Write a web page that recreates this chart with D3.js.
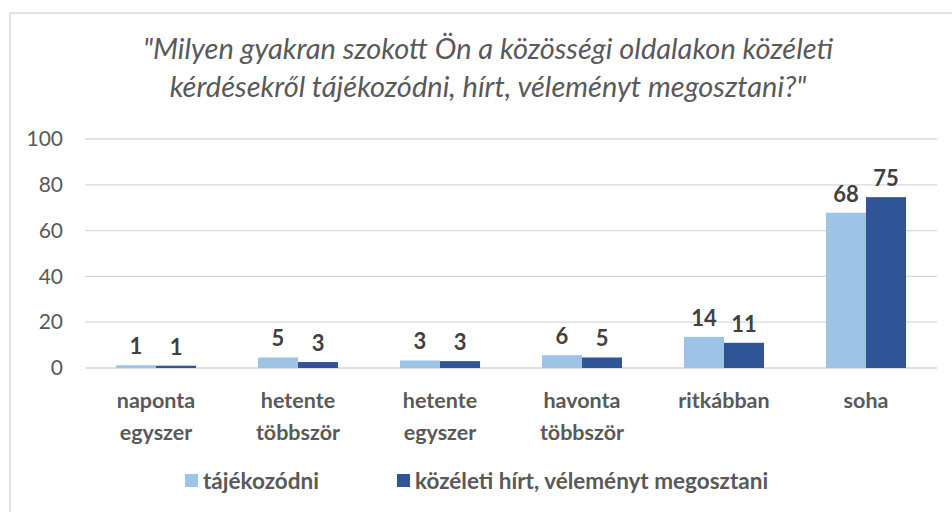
<!DOCTYPE html>
<html>
<head>
<meta charset="utf-8">
<script src="https://cdn.jsdelivr.net/npm/d3@7"></script>
<style>
  body { margin: 0; background: #fff; }
  svg text { font-family: Lato, "Open Sans", sans-serif; }
</style>
</head>
<body>
<script>
// data
var categories = [["naponta", "egyszer"], ["hetente", "többször"], ["hetente", "egyszer"],
                  ["havonta", "többször"], ["ritkábban"], ["soha"]];
var seriesNames = ["tájékozódni", "közéleti hírt, véleményt megosztani"];
var tajekozodni = [1.2, 4.6, 3.3, 5.6, 13.6, 67.8];
var megosztani = [1.0, 2.6, 3.0, 4.6, 11.0, 74.6];
var yTicks = [0, 20, 40, 60, 80, 100];

var colors = ["#9dc3e6", "#2f5597"];
var W = 952, H = 512;
var margin = {top: 139, right: 15, bottom: 144, left: 85};

var svg = d3.select("body").append("svg")
    .attr("width", W)
    .attr("height", H);

// chart frame (only left and top edges show in the picture)
svg.append("rect")
    .attr("x", 10).attr("y", 13)
    .attr("width", W + 20).attr("height", H + 20)
    .attr("fill", "none")
    .attr("stroke", "#d9d9d9")
    .attr("stroke-width", 1.5);

// title
var title = svg.append("text")
    .attr("text-anchor", "middle")
    .attr("fill", "#595959")
    .style("font-style", "italic")
    .style("font-size", "29px");
title.append("tspan").attr("x", 488).attr("y", 59)
    .text("\"Milyen gyakran szokott Ön a közösségi oldalakon közéleti");
title.append("tspan").attr("x", 488).attr("y", 97)
    .text("kérdésekről tájékozódni, hírt, véleményt megosztani?\"");

var g = svg.append("g")
    .attr("transform", "translate(" + margin.left + "," + margin.top + ")");

var width = W - margin.left - margin.right,
    height = H - margin.top - margin.bottom;

var x = d3.scaleBand()
    .domain(d3.range(categories.length))
    .range([0, width])
    .paddingInner(0.436)
    .paddingOuter(0.218);

var x1 = d3.scaleBand()
    .domain([0, 1])
    .range([0, x.bandwidth()]);

var y = d3.scaleLinear()
    .domain([0, 100])
    .range([height, 0]);

// gridlines
g.selectAll(".grid")
    .data(yTicks)
    .enter().append("line")
    .attr("x1", 0).attr("x2", width)
    .attr("y1", function(d) { return y(d); })
    .attr("y2", function(d) { return y(d); })
    .attr("stroke", "#d9d9d9")
    .attr("stroke-width", 1.3);

// y axis labels
var yAxis = g.append("g")
    .call(d3.axisLeft(y).tickValues(yTicks).tickSize(0).tickPadding(22));
yAxis.select(".domain").remove();
yAxis.selectAll("text")
    .attr("fill", "#595959")
    .style("font-size", "21px")
    .style("font-family", "Lato, sans-serif");

var series = [tajekozodni, megosztani];

series.forEach(function(vals, s) {
    var sg = g.append("g");
    sg.selectAll("rect")
        .data(vals)
        .enter().append("rect")
        .attr("x", function(d, i) { return x(i) + x1(s); })
        .attr("y", function(d) { return y(d); })
        .attr("width", x1.bandwidth())
        .attr("height", function(d) { return height - y(d); })
        .attr("fill", colors[s]);

    sg.selectAll("text")
        .data(vals)
        .enter().append("text")
        .attr("x", function(d, i) { return x(i) + x1(s) + x1.bandwidth() / 2; })
        .attr("y", function(d) { return y(d) - 11; })
        .attr("text-anchor", "middle")
        .attr("fill", "#404040")
        .style("font-weight", "bold")
        .style("font-size", "22px")
        .text(function(d) { return d3.format(".0f")(d); });
});

// category labels
var cat = g.selectAll(".cat")
    .data(categories)
    .enter().append("text")
    .attr("text-anchor", "middle")
    .attr("fill", "#595959")
    .style("font-weight", "bold")
    .style("font-size", "21.5px");
cat.selectAll("tspan")
    .data(function(d, i) { return d.map(function(t) { return {t: t, i: i}; }); })
    .enter().append("tspan")
    .attr("x", function(d) { return x(d.i) + x.bandwidth() / 2; })
    .attr("y", function(d, j) { return height + 40 + j * 32; })
    .text(function(d) { return d.t; });

// legend
var legendX = [185, 397];
var leg = svg.selectAll(".leg")
    .data(seriesNames)
    .enter().append("g")
    .attr("transform", function(d, i) { return "translate(" + legendX[i] + ",481)"; });
leg.append("rect")
    .attr("x", 0).attr("y", -7)
    .attr("width", 13).attr("height", 13)
    .attr("fill", function(d, i) { return colors[i]; });
leg.append("text")
    .attr("x", 18).attr("y", 7.5)
    .attr("fill", "#595959")
    .style("font-weight", "bold")
    .style("font-size", "22.5px")
    .text(function(d) { return d; });
</script>
</body>
</html>
